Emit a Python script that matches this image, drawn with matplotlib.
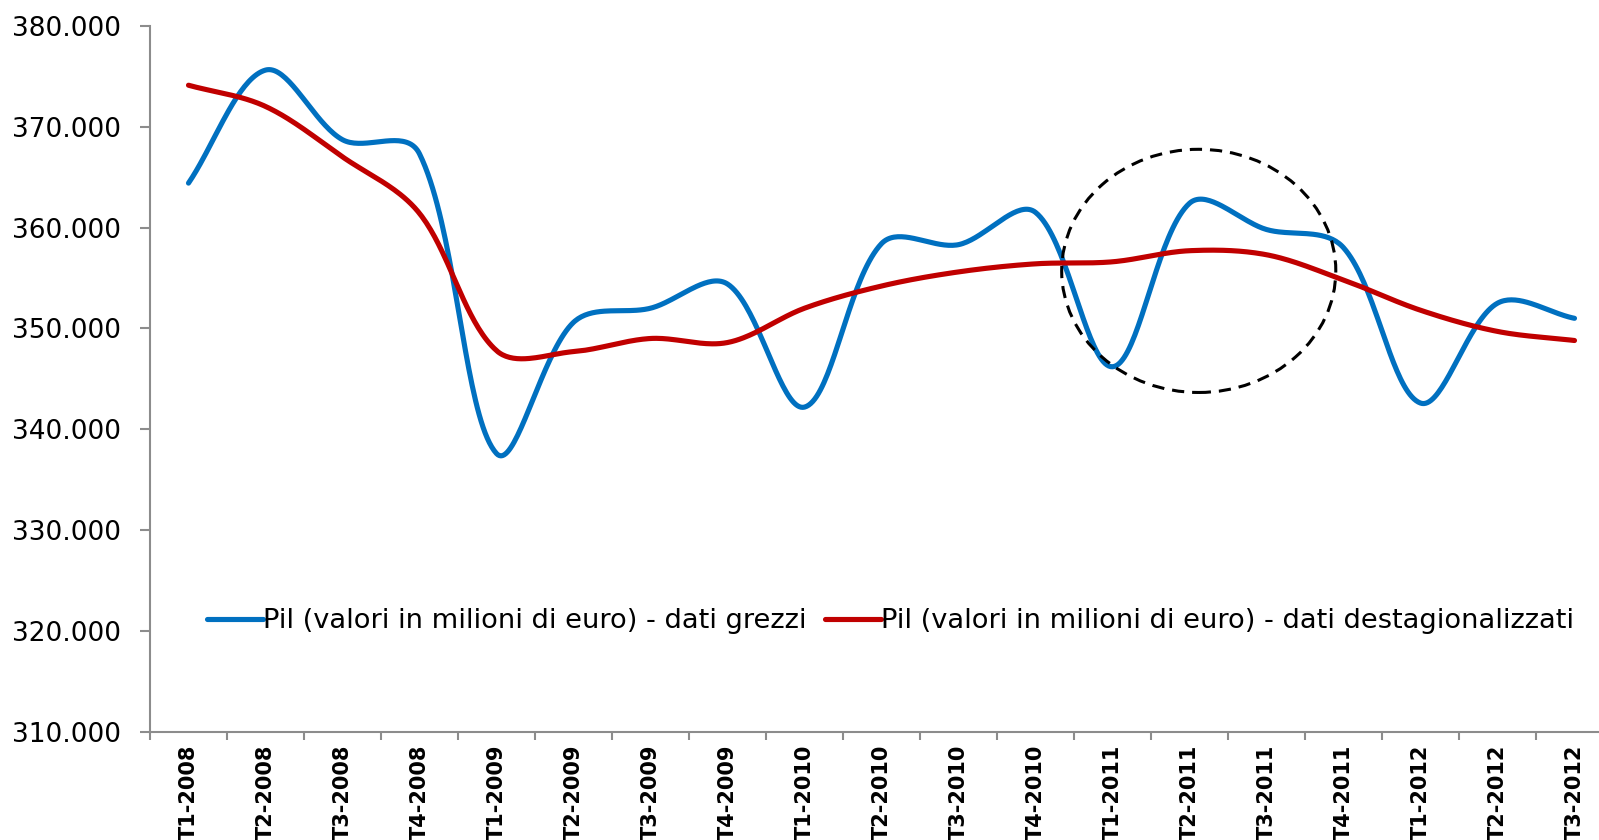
import matplotlib
matplotlib.use("Agg")
import matplotlib.pyplot as plt
from matplotlib.patches import Ellipse
from matplotlib.ticker import FuncFormatter, FixedLocator
import numpy as np

quarters = ['T1-2008', 'T2-2008', 'T3-2008', 'T4-2008',
            'T1-2009', 'T2-2009', 'T3-2009', 'T4-2009',
            'T1-2010', 'T2-2010', 'T3-2010', 'T4-2010',
            'T1-2011', 'T2-2011', 'T3-2011', 'T4-2011',
            'T1-2012', 'T2-2012', 'T3-2012']

# Pil, milioni di euro
grezzi = [364400, 375600, 368700, 367300, 337600, 350600, 352000, 354400,
          342200, 358400, 358300, 361500, 346200, 362400, 359800, 358000,
          342600, 352500, 351000]
destag = [374100, 372000, 367000, 361400, 347800, 347700, 349000, 348600,
          352000, 354200, 355600, 356400, 356600, 357700, 357300, 354800,
          351800, 349700, 348800]

label_grezzi = 'Pil (valori in milioni di euro) - dati grezzi'
label_destag = 'Pil (valori in milioni di euro) - dati destagionalizzati'

# cerchio tratteggiato (centro in indice trimestre / valore, ampiezza, altezza)
circle_center = (13.12, 355700)
circle_w = 3.56
circle_h = 24100

W, H = 1599, 840
left, right = 150, 150 + 19 * 77
top, bottom = 25.7, 732
px_x = 77.0                      # pixel per trimestre
px_y = (bottom - top) / 70000.0  # pixel per milione


def smooth(xs, ys, n=40, mix=0.8):
    # smoothing tipo Excel: bezier, tangenti in parte scalate sulla lunghezza dei segmenti (in pixel)
    p = np.column_stack([np.asarray(xs) * px_x, np.asarray(ys) * px_y]).astype(float)
    ext = np.vstack([p[0], p, p[-1]])
    L = np.linalg.norm(np.diff(ext, axis=0), axis=1)
    out = []
    t = np.linspace(0, 1, n)[:, None]
    for i in range(len(p) - 1):
        p0, p1 = ext[i + 1], ext[i + 2]
        li = L[i + 1]
        d0 = ext[i + 2] - ext[i]
        d1 = ext[i + 3] - ext[i + 1]
        f0 = (1 - mix) * 0.5 + mix * li / max(L[i] + li, 1e-9)
        f1 = (1 - mix) * 0.5 + mix * li / max(li + L[i + 2], 1e-9)
        if i == 0:
            f0 = li / max(L[i] + li, 1e-9)
        if i == len(p) - 2:
            f1 = li / max(li + L[i + 2], 1e-9)
        c1 = p0 + d0 * f0 / 3
        c2 = p1 - d1 * f1 / 3
        seg = ((1 - t) ** 3) * p0 + 3 * ((1 - t) ** 2) * t * c1 + 3 * (1 - t) * t ** 2 * c2 + t ** 3 * p1
        out.append(seg if i == 0 else seg[1:])
    out = np.vstack(out)
    return out[:, 0] / px_x, out[:, 1] / px_y


fig = plt.figure(figsize=(15.99, 8.40), dpi=100)
ax = fig.add_axes([left / W, 1 - bottom / H, (right - left) / W, (bottom - top) / H])

x = np.arange(len(quarters))
xb, yb = smooth(x, grezzi)
xr, yr = smooth(x, destag)
ax.plot(xb, yb, color='#0070C0', lw=3.7, solid_capstyle='round', label=label_grezzi, zorder=3)
ax.plot(xr, yr, color='#C00000', lw=3.7, solid_capstyle='round', label=label_destag, zorder=3)

ax.add_patch(Ellipse(circle_center, circle_w, circle_h, fill=False, edgecolor='black',
                     lw=2.2, linestyle=(0, (4, 2.6)), zorder=4))

ax.set_xlim(-0.5, len(quarters) - 0.5)
ax.set_ylim(310000, 380000)
ax.set_yticks(np.arange(310000, 380001, 10000))
ax.yaxis.set_major_formatter(FuncFormatter(lambda v, p: f"{v:,.0f}".replace(',', '.')))

# tacche ai bordi delle categorie, etichette al centro
ax.xaxis.set_major_locator(FixedLocator(np.arange(-0.5, len(quarters), 1.0)))
ax.xaxis.set_major_formatter(FuncFormatter(lambda v, p: ''))
ax.xaxis.set_minor_locator(FixedLocator(x))
ax.set_xticks(x, quarters, minor=True)
ax.tick_params(axis='x', which='minor', length=0, pad=9, labelsize=15, rotation=90)
for lab in ax.get_xticklabels(minor=True):
    lab.set_fontweight('bold')
    lab.set_va('top')
ax.tick_params(axis='x', which='major', length=6, width=1.5, color='#8c8c8c')
ax.tick_params(axis='y', length=7, width=1.5, color='#8c8c8c', labelsize=19, pad=14)

for s in ['top', 'right']:
    ax.spines[s].set_visible(False)
for s in ['left', 'bottom']:
    ax.spines[s].set_color('#8c8c8c')
    ax.spines[s].set_linewidth(1.5)

leg = ax.legend(loc='center left', bbox_to_anchor=(0.039, 0.157), ncol=2, frameon=False,
                borderpad=0, borderaxespad=0, handlelength=2.05, handletextpad=0.0,
                columnspacing=0.7, prop={'family': 'DejaVu Sans', 'size': 19.6})

fig.savefig('out.png', dpi=100)
